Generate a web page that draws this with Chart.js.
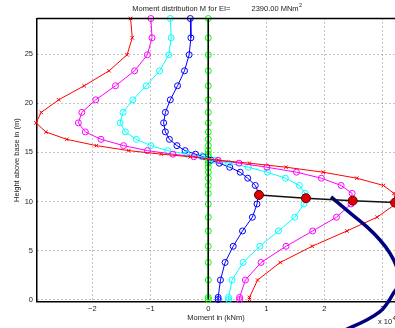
<!DOCTYPE html>
<html lang="en">
<head>
<meta charset="UTF-8">
<title>Moment distribution</title>
<script src="https://cdn.jsdelivr.net/npm/chart.js"></script>
<style>
  html, body { margin: 0; padding: 0; overflow: hidden; background: #fff; }
  #wrap { width: 395px; height: 328px; }
</style>
</head>
<body>
<div id="wrap"><canvas id="momentChart" width="395" height="328"></canvas></div>
<script>
// node heights (m), shared by all load cases
const heights = [28.65, 26.68, 24.95, 23.32, 21.79, 20.36, 19.08, 18.01, 17.09, 16.33,
                 15.69, 15.18, 14.82, 14.56, 14.2, 13.9, 13.49, 12.98, 12.37, 11.63,
                 10.82, 9.74, 8.39, 6.99, 5.43, 3.78, 1.99, 0.22, 0];

// moments (x 10^4 kNm) per load case
const momentRed = [-1.34, -1.31, -1.40, -1.71, -2.14, -2.58, -2.88, -2.97, -2.80, -2.44,
                   -1.93, -1.37, -0.81, -0.31, 0.17, 0.71, 1.34, 1.98, 2.56, 3.02,
                   3.20, 3.23, 2.91, 2.39, 1.79, 1.24, 0.85, 0.71, 0.71];
const momentMagenta = [-0.99, -0.97, -1.05, -1.27, -1.60, -1.94, -2.18, -2.24, -2.12, -1.85,
                       -1.46, -1.05, -0.61, -0.25, 0.17, 0.53, 1.01, 1.52, 1.95, 2.29,
                       2.48, 2.46, 2.21, 1.80, 1.34, 0.91, 0.64, 0.54, 0.54];
const momentCyan = [-0.655, -0.64, -0.68, -0.84, -1.07, -1.30, -1.47, -1.52, -1.43, -1.24,
                    -0.99, -0.70, -0.37, -0.12, 0.12, 0.35, 0.69, 1.02, 1.33, 1.57,
                    1.67, 1.65, 1.49, 1.21, 0.89, 0.60, 0.41, 0.35, 0.35];
const momentBlue = [-0.31, -0.30, -0.33, -0.41, -0.53, -0.655, -0.74, -0.77, -0.74, -0.67,
                    -0.54, -0.40, -0.22, -0.09, 0.05, 0.19, 0.37, 0.55, 0.68, 0.81,
                    0.87, 0.84, 0.76, 0.59, 0.43, 0.29, 0.21, 0.17, 0.17];
const momentGreen = heights.map(() => 0);

// peak moments joined by the black line
const peakX = [0.874, 1.684, 2.49, 3.22];
const peakH = [10.66, 10.33, 10.08, 9.88];

// dark blue arc
const arcX = [2.116, 2.443, 2.731, 2.960, 3.133, 3.27, 3.31, 3.19, 3.076, 2.96, 2.731, 2.357];
const arcH = [10.46, 8.83, 7.43, 6.07, 4.71, 3.01, 1.79, 0.63, -0.46, -1.24, -2.09, -3.11];

// tower axis
const towerX = [0, 0];
const towerH = [0, 28.65];

const xTicks = [-2, -1, 0, 1, 2, 3];
const yTicks = [0, 5, 10, 15, 20, 25];

const fontFamily = '"Liberation Sans", Arial, sans-serif';
const textColor = '#222';

function pts(xs, ys) {
    return xs.map((x, i) => ({ x: x, y: ys[i] }));
}

function loadCase(values, color, style) {
    return {
        data: pts(values, heights),
        showLine: true,
        borderColor: color,
        borderWidth: 1,
        pointStyle: style,
        pointRadius: style === 'crossRot' ? 2.5 : 3,
        pointBorderColor: color,
        pointBackgroundColor: 'rgba(0,0,0,0)',
        pointBorderWidth: 1,
        clip: false
    };
}

const extras = {
    id: 'extras',
    afterDraw(chart) {
        const { ctx, chartArea } = chart;
        ctx.save();
        // top box line
        ctx.strokeStyle = '#000';
        ctx.lineWidth = 1.5;
        ctx.beginPath();
        ctx.moveTo(chartArea.left, chartArea.top);
        ctx.lineTo(chartArea.right, chartArea.top);
        ctx.stroke();

        // title
        ctx.fillStyle = textColor;
        ctx.textBaseline = 'middle';
        ctx.font = '7.5px ' + fontFamily;
        const part1 = 'Moment distribution M for EI=';
        const part2 = '2390.00 MNm';
        const gap = 21;
        const w1 = ctx.measureText(part1).width;
        const w2 = ctx.measureText(part2).width;
        ctx.font = '5.5px ' + fontFamily;
        const w3 = ctx.measureText('2').width;
        const cx = (chartArea.left + chartArea.right) / 2 + 1;
        let x = cx - (w1 + gap + w2 + w3) / 2;
        ctx.font = '7.5px ' + fontFamily;
        ctx.fillText(part1, x, 8.5);
        x += w1 + gap;
        ctx.fillText(part2, x, 8.5);
        ctx.font = '5.5px ' + fontFamily;
        ctx.fillText('2', x + w2 + 0.5, 5.5);

        // exponent label
        ctx.font = '7.5px ' + fontFamily;
        ctx.fillText('x 10', 378, 322);
        const wx = ctx.measureText('x 10').width;
        ctx.font = '5.5px ' + fontFamily;
        ctx.fillText('4', 378 + wx + 0.5, 318.5);
        ctx.restore();
    }
};

new Chart(document.getElementById('momentChart'), {
    type: 'scatter',
    data: {
        datasets: [
            {
                data: pts(peakX, peakH),
                showLine: true,
                borderColor: '#111',
                borderWidth: 1.5,
                pointRadius: 4.5,
                pointBackgroundColor: '#e00000',
                pointBorderColor: '#5a0000',
                pointBorderWidth: 1,
                clip: false
            },
            {
                data: pts(arcX, arcH),
                showLine: true,
                borderColor: '#000080',
                borderWidth: 3.5,
                tension: 0.4,
                pointRadius: 0,
                clip: false
            },
            loadCase(momentRed, '#ff0000', 'crossRot'),
            loadCase(momentMagenta, '#ff00ff', 'circle'),
            loadCase(momentCyan, '#00ffff', 'circle'),
            loadCase(momentBlue, '#0000ff', 'circle'),
            {
                data: pts(towerX, towerH),
                showLine: true,
                borderColor: '#000',
                borderWidth: 1.5,
                pointRadius: 0,
                clip: false
            },
            loadCase(momentGreen, '#00ff00', 'circle')
        ]
    },
    options: {
        responsive: false,
        animation: false,
        layout: { autoPadding: false, padding: { top: 18.5, left: 0, right: 0, bottom: 0 } },
        plugins: {
            legend: { display: false },
            tooltip: { enabled: false }
        },
        scales: {
            x: {
                type: 'linear',
                min: -2.953,
                max: 3.219,
                afterBuildTicks: s => { s.ticks = xTicks.map(v => ({ value: v })); },
                afterFit: s => { s.height = 26.3; },
                grid: { color: '#888', lineWidth: 1, drawTicks: false },
                border: { color: '#000', width: 1.5, dash: [1, 3] },
                ticks: {
                    padding: 3,
                    color: textColor,
                    font: { family: fontFamily, size: 7.5 },
                    callback: v => v < 0 ? '\u2212' + Math.abs(v) : String(v)
                },
                title: {
                    display: true,
                    text: 'Moment in (kNm)',
                    color: textColor,
                    font: { family: fontFamily, size: 7.5 },
                    padding: { top: 0, bottom: 5.2 }
                }
            },
            y: {
                type: 'linear',
                min: -0.22,
                max: 28.65,
                afterBuildTicks: s => { s.ticks = yTicks.map(v => ({ value: v })); },
                afterFit: s => { s.width = 37; },
                grid: { color: '#888', lineWidth: 1, drawTicks: false },
                border: { color: '#000', width: 1.5, dash: [1, 3] },
                ticks: {
                    padding: 4,
                    color: textColor,
                    font: { family: fontFamily, size: 7.5 }
                },
                title: {
                    display: true,
                    text: 'Height above base in (m)',
                    color: textColor,
                    font: { family: fontFamily, size: 7.5 },
                    padding: { top: 12.2, bottom: 0 }
                }
            }
        }
    },
    plugins: [extras]
});
</script>
</body>
</html>
